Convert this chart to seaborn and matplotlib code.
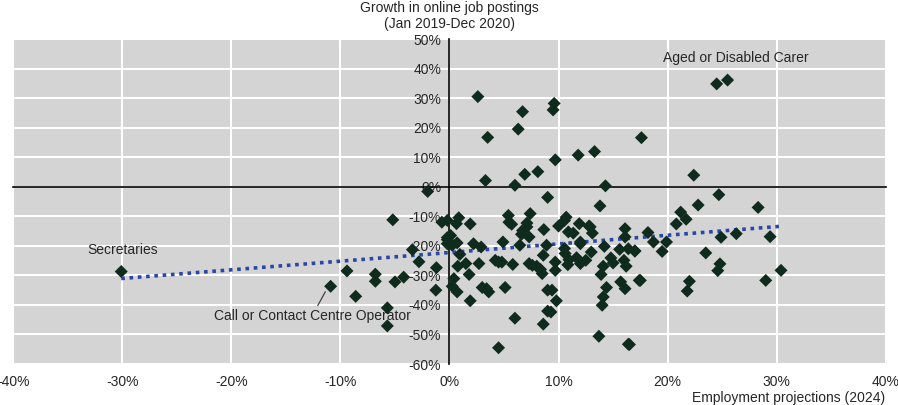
import numpy as np
import pandas as pd
import matplotlib.pyplot as plt
import seaborn as sns
from matplotlib.ticker import FuncFormatter

# employment projections (2024), % change
emp_proj = [
    -30.1, -10.9, -9.4, -8.6, -6.8, -6.8, -5.0, -4.2, -5.7, -5.7,
    -5.2, -3.4, -2.8, -1.2, -1.25, -2.0,
    2.6, 3.5, 3.3, 6.7, 6.3, 9.6, 9.5, 9.7, 6.0, 6.9,
    8.1, 11.8, 13.3, 14.3, 17.6, 9.0, 24.5, 25.5, 22.4, 24.7,
    22.8, 21.2, 28.3, 20.8, 21.7, 24.9, 26.3, 29.4, 18.2, 18.7,
    19.9, 19.5, 23.5, 24.8, 24.6, 30.4, 29.0, 22.0, 21.8, 17.0,
    17.5, 16.5,
    -0.7, -0.2, 0.85, 0.64, 1.9, 0.1, -0.2, 0.25, 0.7, 0.95,
    2.2, 2.9, 4.9, 6.45, 5.4, 5.45, 5.7, 7.4, 7.1, 6.7,
    7.1, 6.6, 7.3, 8.65, 8.9, 8.6, 0.4, 0.25, 0.7, 0.76,
    1.5, 1.8, 2.7, 1.9, 3.0, 3.4, 3.6, 4.2, 4.5, 4.8,
    5.1, 5.8, 6.0, 4.5, 7.3, 7.6, 8.0, 8.35, 8.5, 9.0,
    9.0, 8.6, -0.2, -0.2,
    13.8, 10.0, 10.7, 10.55, 10.9, 11.35, 11.9, 12.8, 13.1, 12.0,
    10.55, 10.6, 10.95, 10.85, 11.65, 12.0, 12.5, 13.0, 9.7, 9.7,
    9.4, 9.8, 9.3, 14.2, 15.6, 14.8, 15.0, 14.1, 13.9, 16.0,
    16.2, 14.4, 14.1, 14.0, 15.7, 16.1, 17.4, 16.1, 16.1, 17.0,
    13.7, 16.4, 12.0, 12.9, 16.4,
]

# growth in online job postings (Jan 2019-Dec 2020), %
post_growth = [
    -28.7, -33.7, -28.5, -37.1, -29.6, -32.0, -32.2, -30.6, -41.0, -47.1,
    -11.2, -21.3, -25.4, -27.4, -35.0, -1.6,
    30.5, 16.7, 2.1, 25.4, 19.5, 28.2, 26.0, 9.1, 0.5, 4.2,
    5.1, 10.7, 11.9, 0.3, 16.6, -3.6, 34.8, 36.1, 3.9, -2.7,
    -6.2, -8.6, -7.0, -12.6, -11.0, -17.1, -15.9, -16.9, -15.5, -18.7,
    -18.7, -21.9, -22.4, -26.1, -28.4, -28.3, -31.7, -32.0, -35.3, -21.7,
    -31.7, -53.4,
    -12.0, -11.4, -10.5, -12.5, -12.6, -16.5, -17.9, -19.8, -19.0, -22.9,
    -19.3, -20.4, -18.7, -19.8, -9.7, -12.0, -12.7, -9.1, -12.3, -14.8,
    -13.6, -16.1, -17.0, -14.5, -19.8, -23.2, -31.1, -33.7, -35.6, -26.9,
    -26.0, -29.7, -26.0, -38.6, -34.1, -34.5, -35.6, -24.9, -25.5, -25.5,
    -34.1, -26.3, -44.5, -54.5, -26.0, -26.6, -26.9, -28.0, -29.4, -35.0,
    -42.1, -46.5, -17.2, -19.3,
    -6.5, -13.3, -10.3, -11.4, -15.3, -15.7, -12.5, -13.3, -15.7, -19.3,
    -20.9, -22.6, -24.7, -26.4, -24.0, -26.0, -24.9, -22.1, -25.5, -28.3,
    -35.0, -38.6, -42.4, -20.2, -21.2, -24.1, -25.8, -26.9, -29.7, -24.9,
    -26.9, -34.1, -37.3, -40.1, -32.2, -34.5, -31.7, -14.2, -17.0, -21.8,
    -50.6, -53.3, -18.7, -13.6, -21.0,
]

df = pd.DataFrame({'emp': emp_proj, 'growth': post_growth})

x_ticks = [-40, -30, -20, -10, 0, 10, 20, 30, 40]
y_ticks = [-60, -50, -40, -30, -20, -10, 0, 10, 20, 30, 40, 50]

sns.set_style('white')
plt.rcParams['font.family'] = ['Liberation Sans', 'DejaVu Sans']
fs = 10

fig = plt.figure(figsize=(8.98, 4.05), dpi=100)
ax = fig.add_axes([0.0148, 0.1012, 0.9715, 0.8025])
ax.set_facecolor('#d4d4d4')

# trend line
sns.regplot(data=df, x='emp', y='growth', ax=ax, scatter=False, ci=None, truncate=True,
            line_kws={'color': '#2a46a8', 'linestyle': (0, (1, 1.3)), 'linewidth': 2.6})
# points
sns.scatterplot(data=df, x='emp', y='growth', ax=ax, marker='D', s=44,
                color='#0f2b1e', edgecolor='none', zorder=3)

ax.set_xlim(-40, 40)
ax.set_ylim(-60, 50)
ax.set_xticks(x_ticks)
ax.set_yticks(y_ticks)
ax.grid(True, color='white', linewidth=1.5)
ax.set_axisbelow(True)

pct = FuncFormatter(lambda v, p: f'{v:.0f}%')
ax.yaxis.set_major_formatter(pct)

for s in ['top', 'right']:
    ax.spines[s].set_visible(False)
for s in ['left', 'bottom']:
    ax.spines[s].set_position(('data', 0))
    ax.spines[s].set_color('black')
    ax.spines[s].set_linewidth(1.2)
ax.tick_params(axis='y', direction='in', length=5, width=1.2, labelsize=fs, pad=6)
ax.tick_params(axis='x', direction='in', length=5, width=1.2, labelbottom=False)

sec = ax.secondary_xaxis('bottom')
sec.set_xticks(x_ticks)
sec.xaxis.set_major_formatter(pct)
sec.tick_params(length=0, labelsize=fs, pad=8)
sec.spines['bottom'].set_visible(False)

ax.set_xlabel('')
ax.set_ylabel('')
fig.text(0.986, 0.001, 'Employment projections (2024)', ha='right', va='bottom', fontsize=fs)
ax.text(0, 52.8, 'Growth in online job postings\n(Jan 2019-Dec 2020)', ha='center', va='bottom',
        fontsize=fs, linespacing=1.2)

ax.text(19.6, 43.7, 'Aged or Disabled Carer', ha='left', va='center', fontsize=fs)
ax.text(-30.0, -21.3, 'Secretaries', ha='center', va='center', fontsize=fs)
ax.annotate('Call or Contact Centre Operator', xy=(-11.2, -34.3), xytext=(-12.6, -43.7),
            ha='center', va='center', fontsize=fs,
            arrowprops=dict(arrowstyle='-', color='#404040', lw=0.9, shrinkA=0, shrinkB=3))

fig.savefig('out.png', dpi=100)
